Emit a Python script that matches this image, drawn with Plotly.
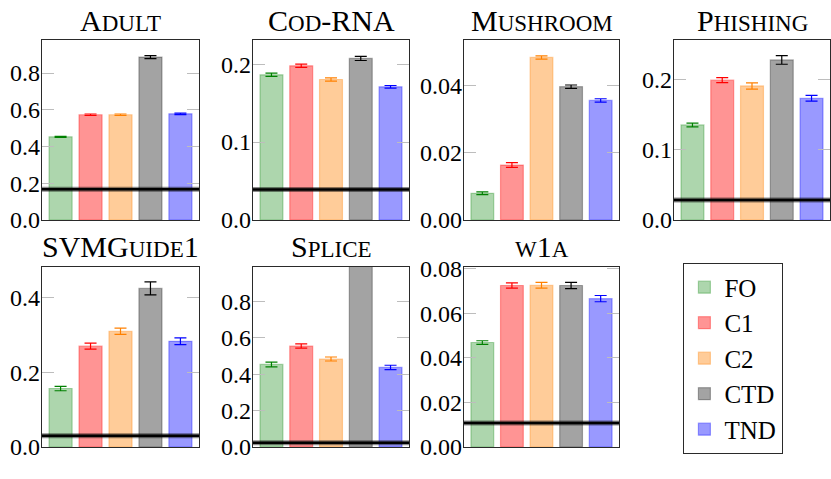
import plotly.graph_objects as go

datasets = ["Adult", "Cod-RNA", "Mushroom", "Phishing", "SVMGuide1", "Splice", "w1a"]
methods = ["FO", "C1", "C2", "CTD", "TND"]

FO = [0.453, 0.1863, 0.00795, 0.1357, 0.1566, 0.454, 0.0469]
C1 = [0.573, 0.1979, 0.01637, 0.1996, 0.270, 0.5555, 0.0725]
C2 = [0.573, 0.1803, 0.0484, 0.1914, 0.310, 0.484, 0.0726]
CTD = [0.887, 0.2073, 0.0397, 0.2286, 0.4246, 1.2, 0.0725]
TND = [0.578, 0.1709, 0.0356, 0.1738, 0.283, 0.4376, 0.0666]

FO_err = [0.003, 0.0021, 0.0004, 0.0026, 0.006, 0.013, 0.0008]
C1_err = [0.004, 0.0021, 0.0007, 0.0036, 0.008, 0.012, 0.0012]
C2_err = [0.004, 0.0020, 0.0005, 0.0045, 0.0085, 0.011, 0.0013]
CTD_err = [0.008, 0.0026, 0.0005, 0.0062, 0.0175, 0.0, 0.0014]
TND_err = [0.004, 0.0017, 0.0005, 0.0040, 0.009, 0.012, 0.0014]

baseline = [0.167, 0.0393, None, 0.0286, 0.030, 0.024, 0.0108]

y_max = [0.98, 0.231, 0.0536, 0.257, 0.482, 0.99, 0.0808]
y_dtick = [0.2, 0.1, 0.02, 0.1, 0.2, 0.2, 0.02]
y_fmt = [".1f", ".1f", ".2f", ".1f", ".1f", ".1f", ".2f"]

values = [FO, C1, C2, CTD, TND]
errors = [FO_err, C1_err, C2_err, CTD_err, TND_err]
fills = ["rgba(0,128,0,0.32)", "rgba(255,0,0,0.42)", "rgba(255,128,0,0.40)",
         "rgba(0,0,0,0.36)", "rgba(0,0,255,0.40)"]
edges = ["rgba(0,128,0,0.30)", "rgba(255,0,0,0.35)", "rgba(255,128,0,0.35)",
         "rgba(0,0,0,0.30)", "rgba(0,0,255,0.35)"]
err_cols = ["rgb(0,128,0)", "rgb(255,0,0)", "rgb(255,128,0)", "rgb(0,0,0)", "rgb(0,0,255)"]

W, H = 831, 479
col_px = [(42, 199), (253, 409), (464, 619), (674, 830)]
row_px = [(40, 220), (267, 447)]
title_y = [20, 246]
legend_px = (683, 263)

FONT = "Liberation Serif, Times New Roman, serif"


def px_x(v):
    return v / W


def px_y(v):
    return 1 - v / H


def small_caps(s, small=23):
    out = ""
    for ch in s:
        if ch.islower():
            out += "<span style='font-size:%dpx'>%s</span>" % (small, ch.upper())
        else:
            out += ch
    return out


fig = go.Figure()
annotations = []
shapes = []

for i, ds in enumerate(datasets):
    r, c = divmod(i, 4)
    n = i + 1
    xa = "x" if n == 1 else "x%d" % n
    ya = "y" if n == 1 else "y%d" % n
    for m, name in enumerate(methods):
        fig.add_trace(go.Bar(
            x=[name], y=[values[m][i]],
            xaxis=xa, yaxis=ya,
            name=name, legendgroup=name, showlegend=(i == 0),
            width=0.77,
            marker=dict(color=fills[m], line=dict(color=edges[m], width=1.2)),
            error_y=dict(type="data", array=[errors[m][i]], visible=errors[m][i] > 0,
                         color=err_cols[m], thickness=1.2, width=6),
        ))
    x0, x1 = col_px[c]
    yt, yb = row_px[r]
    fig.layout["xaxis" if n == 1 else "xaxis%d" % n] = dict(
        domain=[px_x(x0), min(px_x(x1), 1.0)], anchor=ya,
        type="category", categoryorder="array", categoryarray=methods,
        range=[-0.62, 4.62], showticklabels=False, ticks="",
        showgrid=False, zeroline=False, automargin=False,
        showline=True, mirror=True, linecolor="#2a2a2a", linewidth=1.4,
    )
    fig.layout["yaxis" if n == 1 else "yaxis%d" % n] = dict(
        domain=[px_y(yb), px_y(yt)], anchor=xa,
        range=[0, y_max[i]], dtick=y_dtick[i], tick0=0, tickformat=y_fmt[i],
        ticks="inside", ticklen=12, tickcolor="#bdbdbd", tickwidth=1.2,
        showgrid=False, zeroline=False, automargin=False,
        showline=True, mirror="ticks", linecolor="#2a2a2a", linewidth=1.4,
        tickfont=dict(family=FONT, size=24, color="black"),
        ticklabelstandoff=-4,
    )
    annotations.append(dict(
        text=small_caps(ds), x=px_x((x0 + x1) / 2), y=px_y(title_y[r]),
        xref="paper", yref="paper", xanchor="center", yanchor="middle",
        showarrow=False, font=dict(family=FONT, size=30, color="black"),
    ))
    if baseline[i] is not None:
        xd = ("x" if n == 1 else "x%d" % n) + " domain"
        shapes.append(dict(type="line", xref=xd, yref=ya, x0=0, x1=1,
                           y0=baseline[i], y1=baseline[i],
                           line=dict(color="rgba(0,0,0,0.45)", width=5)))
        shapes.append(dict(type="line", xref=xd, yref=ya, x0=0, x1=1,
                           y0=baseline[i], y1=baseline[i],
                           line=dict(color="black", width=2.5)))

fig.update_layout(
    width=W, height=H,
    margin=dict(l=0, r=0, t=0, b=0, autoexpand=False),
    paper_bgcolor="white", plot_bgcolor="white",
    barmode="overlay",
    annotations=annotations, shapes=shapes,
    showlegend=True,
    legend=dict(
        x=px_x(legend_px[0]), y=px_y(legend_px[1]), xanchor="left", yanchor="top",
        bordercolor="#2a2a2a", borderwidth=1.4, bgcolor="white",
        font=dict(family=FONT, size=25, color="black"),
        tracegroupgap=0, itemwidth=30, entrywidth=52,
    ),
)

# the page's default 8px body margin would push the figure off its place
fig.write_html("out.html", config={"displayModeBar": False},
               post_script="document.body.style.margin='0px';")
